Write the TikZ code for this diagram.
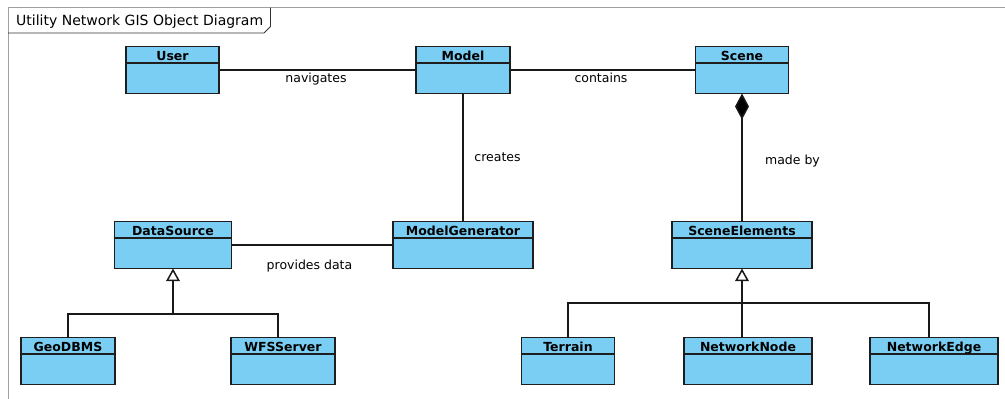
\documentclass[tikz,border=0pt]{standalone}
\usepackage{fontspec}
\setmainfont{DejaVu Sans}
\usetikzlibrary{arrows.meta,calc}
\definecolor{classfill}{RGB}{122,206,244}
\definecolor{classedge}{RGB}{30,30,30}
\definecolor{framegray}{RGB}{160,160,160}

% A UML class: id, name, centre x, top y, width
\newcommand\umlclass[5]{%
  \node[classbox, minimum width=#5pt, anchor=north] (#1) at (#3,#4) {};
  \draw[classedge, line width=1.5pt] ($(#1.north west)+(0,16.5)$) -- ($(#1.north east)+(0,16.5)$);
  \node[classname] (#1-name) at ($(#1.north)+(0,13.6)$) {#2};
}

\begin{document}
\begin{tikzpicture}[x=1pt,y=-1pt,
  classbox/.style={draw=classedge, fill=classfill, line width=1.5pt, minimum height=47pt, inner sep=0pt, outer sep=0pt},
  classname/.style={font=\fontsize{12.5}{14}\selectfont\bfseries, anchor=base, inner sep=0pt},
  conn/.style={draw=black!90, line width=1.5pt},
  lbl/.style={font=\fontsize{12.5}{14}\selectfont, anchor=base, inner sep=0pt},
  gen/.style={conn, -{Triangle[open, width=13.5pt, length=12.5pt, fill=white]}},
  comp/.style={conn, {Diamond[width=14pt, length=26pt, fill=black]}-},
]
\useasboundingbox (0,0) rectangle (1005,399);

% diagram frame and its title tab
\draw[framegray, line width=1pt] (8,399) -- (8,7.5) -- (1005,7.5);
\draw[black!80, line width=0.8pt] (8,33) -- (264,33) -- (270.5,26.5) -- (270.5,7.5);
\node[anchor=base west, font=\fontsize{14}{16}\selectfont, inner sep=0pt] (title) at (16,25.5) {Utility Network GIS Object Diagram};

% classes
\umlclass{User}{User}{172.5}{46.5}{93}
\umlclass{Model}{Model}{463}{46.5}{94}
\umlclass{Scene}{Scene}{742}{46.5}{93}
\umlclass{DataSource}{DataSource}{173}{221.5}{117}
\umlclass{ModelGenerator}{ModelGenerator}{463}{221.5}{140}
\umlclass{SceneElements}{SceneElements}{742}{221.5}{140}
\umlclass{GeoDBMS}{GeoDBMS}{68}{337.5}{94}
\umlclass{WFSServer}{WFSServer}{283}{337.5}{104}
\umlclass{Terrain}{Terrain}{568}{337.5}{93}
\umlclass{NetworkNode}{NetworkNode}{748}{337.5}{128}
\umlclass{NetworkEdge}{NetworkEdge}{934}{337.5}{128}

% associations
\draw[conn] (User.east) -- (Model.west);
\draw[conn] (Model.east) -- (Scene.west);
\draw[conn] (Model.south) -- (ModelGenerator.north);
\draw[conn] (DataSource.east) -- (ModelGenerator.west);
\draw[comp] (Scene.south) -- (SceneElements.north);

% generalisation of DataSource
\coordinate (dsJoin) at (173,314);
\coordinate (wfsTop) at ($(WFSServer.north)+(-5,0)$);
\draw[conn] (GeoDBMS.north) |- (dsJoin) -| (wfsTop);
\draw[gen] (dsJoin) -- (DataSource.south);

% generalisation of SceneElements
\coordinate (seJoin) at (742,303);
\coordinate (neTop) at ($(NetworkEdge.north)+(-5,0)$);
\draw[conn] (Terrain.north) |- (seJoin) -| (neTop);
\draw[gen] (NetworkNode.north -| seJoin) -- (SceneElements.south);

% association labels
\node[lbl] (lblNavigates) at (316,82.7) {navigates};
\node[lbl] (lblContains) at (601,82.7) {contains};
\node[lbl] (lblCreates) at (497.5,161) {creates};
\node[lbl] (lblMadeBy) at (792.5,164) {made by};
\node[lbl] (lblProvides) at (309.5,269) {provides data};
\end{tikzpicture}
\end{document}
